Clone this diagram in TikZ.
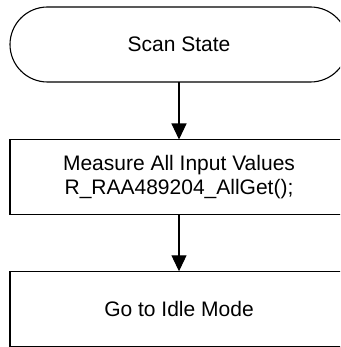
\documentclass[tikz,border=0pt]{standalone}
\usepackage{fontspec}
\setmainfont{Liberation Sans}
\usetikzlibrary{arrows.meta,shapes.misc}
\begin{document}
\begin{tikzpicture}[x=1pt,y=-1pt,
  base/.style={draw=black, line width=1.1pt, minimum width=338pt, inner sep=0pt, outer sep=0pt,
    align=center, font=\fontsize{21}{24.5}\selectfont},
  term/.style={base, rounded rectangle, minimum height=75pt},
  proc/.style={base, rectangle, minimum height=75pt},
  arr/.style={line width=1.1pt, -{Triangle[width=15pt,length=16pt]}}]
\clip (0,0) rectangle (340,347);
\useasboundingbox (0,0) rectangle (340,347);
\node[term] (scan) at (179,44.5) {Scan State};
\node[proc] (meas) at (179,177) {Measure All Input Values\\R\_RAA489204\_AllGet();};
\node[proc] (idle) at (179,308.8) {Go to Idle Mode};
\draw[arr] (scan.south) -- (meas.north);
\draw[arr] (meas.south) -- (idle.north);
\end{tikzpicture}
\end{document}
